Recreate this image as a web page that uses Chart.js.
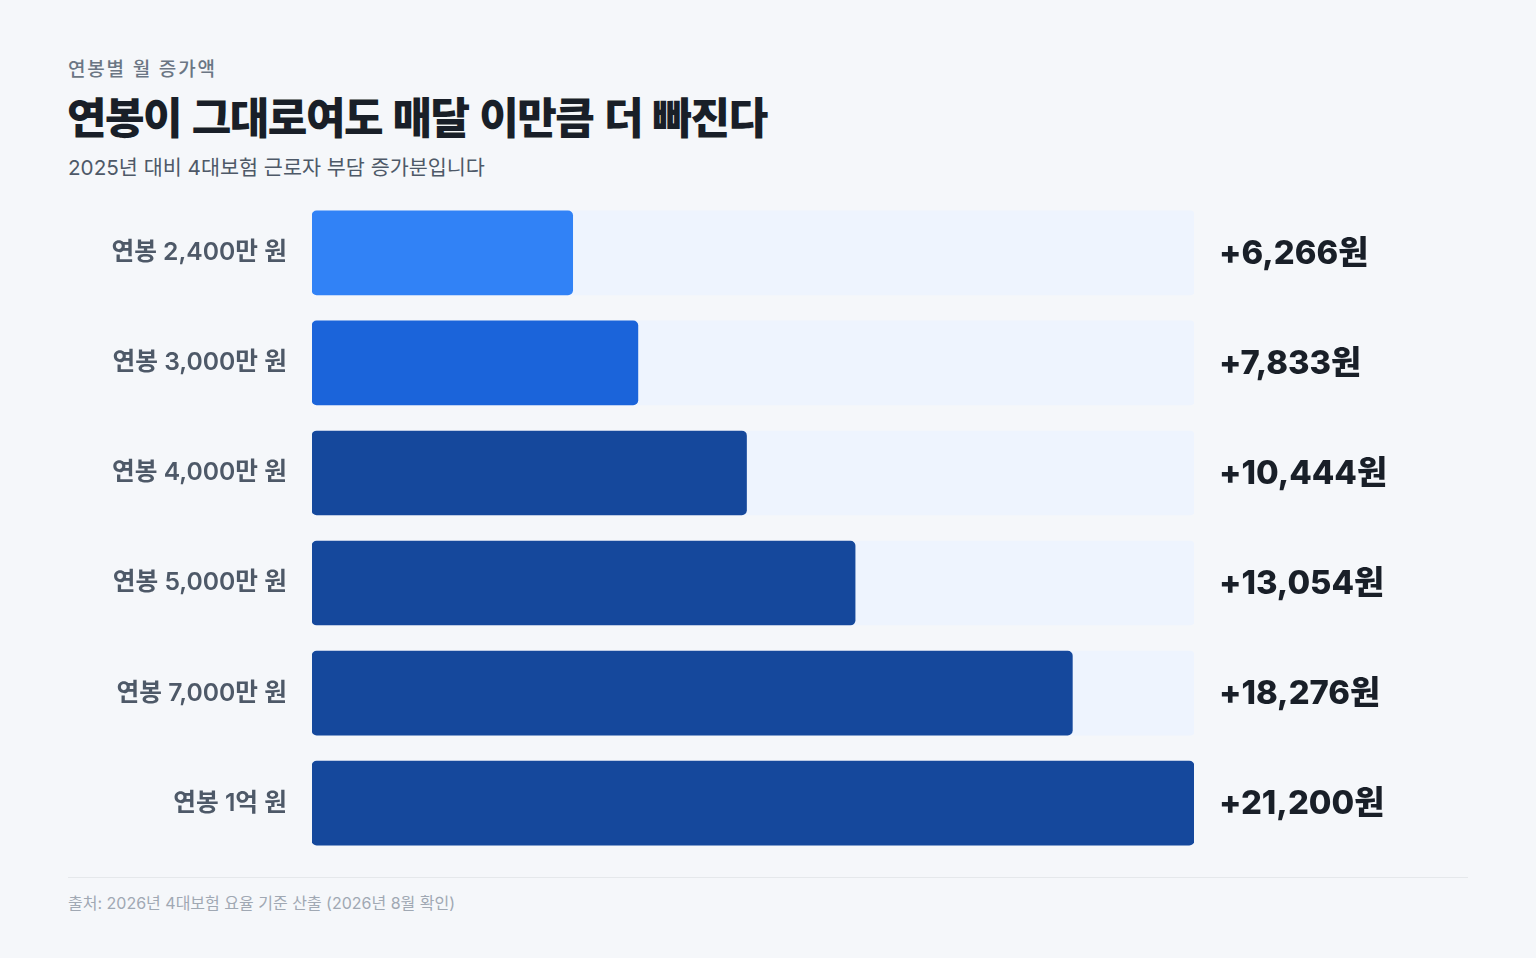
<!DOCTYPE html>
<html lang="ko">
<head>
<meta charset="utf-8">
<script src="https://cdn.jsdelivr.net/npm/chart.js@4"></script>
<style>
    html, body { margin: 0; padding: 0; }
    body {
        width: 1536px; height: 958px; background: #f5f7fa; position: relative; overflow: hidden;
        font-family: Inter, "Noto Sans CJK KR", sans-serif;
    }
    .eyebrow { position: absolute; left: 68px; top: 54px; font-size: 19px; font-weight: 500; color: #6b7684; letter-spacing: 1.8px; }
    .title { position: absolute; left: 67px; top: 84px; font-size: 43px; font-weight: 900; color: #191f28; letter-spacing: -1.5px;
        font-family: "Noto Sans CJK KR", sans-serif; }
    .sub { position: absolute; left: 68px; top: 151px; font-size: 20.7px; font-weight: 400; color: #4e5968; }
    .chart-box { position: absolute; left: 68px; top: 166px; width: 1400px; height: 724px; }
    .rule { position: absolute; left: 68px; top: 877px; width: 1400px; height: 1px; background: #e5e8eb; }
    .source { position: absolute; left: 68px; top: 890px; font-size: 16px; color: #a0a8b3; }
</style>
</head>
<body>
<div class="eyebrow">연봉별 월 증가액</div>
<div class="title">연봉이 그대로여도 매달 이만큼 더 빠진다</div>
<div class="sub">2025년 대비 4대보험 근로자 부담 증가분입니다</div>
<div class="chart-box"><canvas id="barChart"></canvas></div>
<div class="rule"></div>
<div class="source">출처: 2026년 4대보험 요율 기준 산출 (2026년 8월 확인)</div>

<script>
// === 데이터 ===
const categorias = ['연봉 2,400만 원', '연봉 3,000만 원', '연봉 4,000만 원', '연봉 5,000만 원', '연봉 7,000만 원', '연봉 1억 원'];
const incrementos = [6266, 7833, 10444, 13054, 18276, 21200];
const maximo = 21200;
const coloresBarra = ['#3182f6', '#1b64da', '#15489c', '#15489c', '#15489c', '#15489c'];

// etiquetas de valor a la derecha de la pista
const etiquetasValor = {
    id: 'etiquetasValor',
    afterDatasetsDraw(chart) {
        const ctx = chart.ctx;
        const xScale = chart.scales.x;
        const meta = chart.getDatasetMeta(0);
        const xTexto = xScale.getPixelForValue(maximo) + 25;
        ctx.save();
        ctx.font = '800 32.8px Inter, "Noto Sans CJK KR", sans-serif';
        ctx.fillStyle = '#191f28';
        ctx.textAlign = 'left';
        ctx.textBaseline = 'middle';
        meta.data.forEach((bar, i) => {
            ctx.fillText('+' + incrementos[i].toLocaleString('en-US') + '원', xTexto, bar.y + 1);
        });
        ctx.restore();
    }
};

document.addEventListener("DOMContentLoaded", function() {
    const ctx = document.getElementById('barChart').getContext('2d');
    new Chart(ctx, {
        type: 'bar',
        data: {
            labels: categorias,
            datasets: [
                {
                    data: incrementos,
                    backgroundColor: coloresBarra,
                    borderRadius: 5,
                    borderSkipped: false,
                    barThickness: 84,
                    grouped: false,
                    order: 1
                },
                {
                    data: categorias.map(() => maximo),
                    backgroundColor: '#eef4fe',
                    borderRadius: 4,
                    borderSkipped: false,
                    barThickness: 84,
                    grouped: false,
                    order: 2
                }
            ]
        },
        options: {
            indexAxis: 'y',
            responsive: true,
            maintainAspectRatio: false,
            animation: false,
            layout: { padding: { left: 0, right: 274, top: 0, bottom: 0 } },
            plugins: { legend: { display: false }, tooltip: { enabled: false } },
            scales: {
                x: { display: false, min: 0, max: maximo },
                y: {
                    grid: { display: false },
                    border: { display: false },
                    afterFit(scale) { scale.width = 244; },
                    ticks: {
                        padding: 17,
                        color: '#4e5968',
                        font: { family: 'Inter, "Noto Sans CJK KR", sans-serif', size: 24.7, weight: '600' }
                    }
                }
            }
        },
        plugins: [etiquetasValor]
    });
});
</script>
</body>
</html>
